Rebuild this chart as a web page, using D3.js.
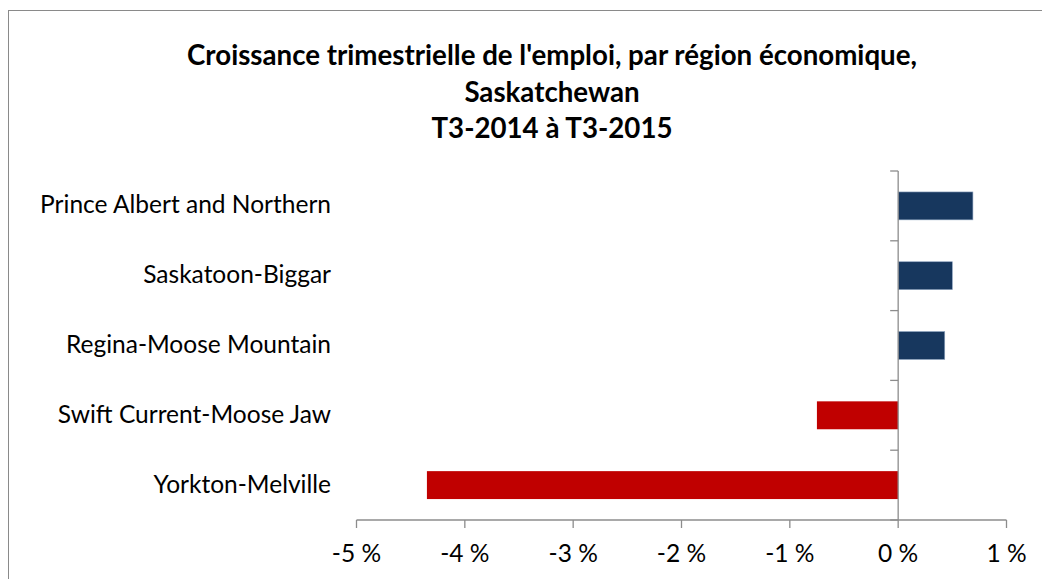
<!DOCTYPE html>
<html>
<head>
<meta charset="utf-8">
<script src="https://cdn.jsdelivr.net/npm/d3@7"></script>
<style>
  html, body { margin: 0; padding: 0; background: #fff; }
  svg { display: block; }
  text { font-family: Lato, "Open Sans", sans-serif; fill: #000; }
</style>
</head>
<body>
<svg id="chart" width="1042" height="579"></svg>
<script>
// Data
const categories = ["Prince Albert and Northern", "Saskatoon-Biggar", "Regina-Moose Mountain", "Swift Current-Moose Jaw", "Yorkton-Melville"];
const values = [0.69, 0.50, 0.43, -0.75, -4.35];
const xTicks = [-5, -4, -3, -2, -1, 0, 1];
const xTickLabels = ["-5 %", "-4 %", "-3 %", "-2 %", "-1 %", "0 %", "1 %"];
const titleLines = ["Croissance trimestrielle de l'emploi, par région économique,", "Saskatchewan", "T3-2014 à T3-2015"];

const svg = d3.select("#chart");
const axisColor = "#8c8c8c";

// Outer border (only top and left visible in reference)
svg.append("rect")
  .attr("x", 8.5).attr("y", 10.5)
  .attr("width", 1100).attr("height", 600)
  .attr("fill", "none").attr("stroke", "#8a8a8a").attr("stroke-width", 1);

const x = d3.scaleLinear().domain([-5, 1]).range([356.5, 1006.5]);
const y = d3.scaleBand().domain(categories).range([171, 520]).paddingInner(0.6).paddingOuter(0.3);

function fitText(sel, targetWidth) {
  sel.each(function() {
    const w = this.getComputedTextLength();
    const fs = parseFloat(d3.select(this).attr("font-size"));
    d3.select(this).attr("font-size", (fs * targetWidth / w).toFixed(2));
  });
}

// Title
const titleBaselines = [65, 101.5, 138];
const title = svg.append("g");
titleLines.forEach((t, i) => {
  title.append("text")
    .attr("x", 552).attr("y", titleBaselines[i])
    .attr("text-anchor", "middle")
    .attr("font-weight", "bold")
    .attr("font-size", 22)
    .text(t);
});
// scale title font so first line spans reference width
const firstTitle = title.select("text").node();
const tw = firstTitle.getComputedTextLength();
const titleSize = 22 * 730 / tw;
title.selectAll("text").attr("font-size", titleSize.toFixed(2));

// Bars
svg.append("g").selectAll("rect")
  .data(categories.map((c, i) => ({ c, v: values[i] })))
  .join("rect")
  .attr("x", d => x(Math.min(0, d.v)))
  .attr("y", d => y(d.c))
  .attr("width", d => Math.abs(x(d.v) - x(0)))
  .attr("height", y.bandwidth())
  .attr("fill", d => d.v >= 0 ? "#17375E" : "#C00000")
  .attr("stroke", d => d.v >= 0 ? "#8ea4c0" : "none")
  .attr("stroke-width", 0.6);

// Y axis (at x=0)
const yAxisG = svg.append("g");
yAxisG.append("line")
  .attr("x1", x(0)).attr("x2", x(0))
  .attr("y1", y.range()[0]).attr("y2", y.range()[1])
  .attr("stroke", axisColor).attr("stroke-width", 1.3);
const bounds = d3.range(categories.length + 1).map(i => y.range()[0] + i * y.step());
yAxisG.selectAll("line.tick")
  .data(bounds)
  .join("line").attr("class", "tick")
  .attr("x1", x(0) - 8).attr("x2", x(0))
  .attr("y1", d => d).attr("y2", d => d)
  .attr("stroke", axisColor).attr("stroke-width", 1.3);

// Category labels
const catLabels = svg.append("g").selectAll("text")
  .data(categories)
  .join("text")
  .attr("x", 331)
  .attr("y", d => y(d) + y.bandwidth() / 2 + 7.5)
  .attr("text-anchor", "end")
  .attr("font-size", 20)
  .text(d => d);
// fit size so first label width matches reference (~291px)
const lw = catLabels.node().getComputedTextLength();
const labelSize = 20 * 291 / lw;
catLabels.attr("font-size", labelSize.toFixed(2));

// X axis
const xAxisG = svg.append("g");
xAxisG.append("line")
  .attr("x1", x(-5)).attr("x2", x(1))
  .attr("y1", 520).attr("y2", 520)
  .attr("stroke", axisColor).attr("stroke-width", 1.3);
xAxisG.selectAll("line.tick")
  .data(xTicks)
  .join("line").attr("class", "tick")
  .attr("x1", d => x(d)).attr("x2", d => x(d))
  .attr("y1", 520).attr("y2", 528)
  .attr("stroke", axisColor).attr("stroke-width", 1.3);
xAxisG.selectAll("text")
  .data(xTicks)
  .join("text")
  .attr("x", d => x(d))
  .attr("y", 561.5)
  .attr("text-anchor", "middle")
  .attr("font-size", labelSize.toFixed(2))
  .text((d, i) => xTickLabels[i]);
</script>
</body>
</html>
